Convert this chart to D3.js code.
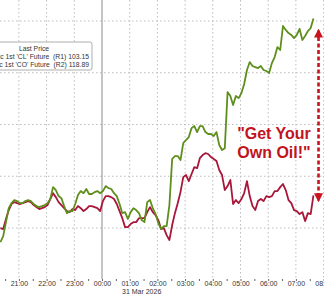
<!DOCTYPE html>
<html>
<head>
<meta charset="utf-8">
<script src="https://d3js.org/d3.v7.min.js"></script>
<style>
  body { margin: 0; background: #fff; }
  svg { display: block; }
  .tick text { font-family: "Liberation Sans", Arial, sans-serif; font-size: 7px; fill: #333; }
</style>
</head>
<body>
<div id="chart"></div>
<script>
// series: one reading every 6 minutes from 20:20, 30 Mar 2026
var startTime = '2026-03-30T20:20:00';
var stepMinutes = 6;

// Generic 1st 'CL' Future (R1)
var clValues = [
  90.18, 90.53, 91.34, 92.15, 92.44, 92.62, 92.56, 92.44, 92.44, 92.56,
  92.62, 92.56, 92.39, 92.27, 92.21, 92.27, 92.33, 92.44, 92.68, 93.37,
  93.20, 92.85, 92.73, 92.27, 91.86, 91.98, 91.98, 92.39, 92.91, 93.14,
  93.02, 93.26, 92.97, 92.97, 93.08, 93.14, 93.02, 93.14, 93.43, 93.31,
  93.26, 93.02, 92.85, 92.39, 91.86, 91.92, 91.52, 91.92, 92.15, 92.04,
  91.86, 91.46, 91.34, 92.50, 92.62, 92.15, 91.81, 91.28, 90.94, 91.11,
  91.11, 92.33, 95.00, 95.17, 95.17, 94.94, 95.92, 96.10, 96.27, 96.79,
  96.91, 96.56, 96.91, 96.91, 96.56, 96.45, 96.45, 96.33, 96.56, 95.81,
  95.52, 95.63, 98.88, 98.65, 98.13, 98.65, 98.53, 98.82, 99.35, 100.16,
  100.62, 100.39, 100.33, 100.27, 100.39, 100.16, 100.10, 99.98, 100.56, 100.91,
  101.49, 101.32, 102.71, 102.48, 102.30, 102.19, 102.01, 102.19, 102.54, 101.90,
  102.13, 102.42, 102.59, 103.15
];

// Generic 1st 'CO' Future (R2)
var coValues = [
  116.99, 116.94, 117.52, 118.04, 118.39, 118.50, 118.44, 118.39, 118.44, 118.50,
  118.56, 118.50, 118.33, 118.21, 118.10, 118.15, 118.21, 118.33, 118.68, 119.02,
  118.79, 118.50, 118.33, 118.15, 117.98, 117.92, 118.10, 118.04, 118.27, 118.15,
  117.98, 118.10, 118.27, 118.27, 118.21, 118.15, 117.98, 118.56, 118.85, 118.85,
  118.79, 118.68, 118.39, 117.98, 117.57, 117.05, 117.05, 117.23, 117.34, 117.34,
  117.57, 117.57, 117.57, 117.92, 118.21, 117.92, 117.75, 117.46, 116.94, 116.99,
  116.59, 116.30, 117.17, 117.86, 118.44, 119.08, 119.95, 120.07, 119.72, 120.13,
  120.53, 120.47, 121.05, 121.23, 121.34, 121.29, 121.11, 121.00, 120.88, 120.36,
  120.07, 119.20, 119.43, 119.78, 118.39, 118.62, 118.44, 118.68, 119.02, 119.72,
  118.85, 118.27, 118.04, 118.56, 118.68, 118.56, 118.85, 118.79, 118.85, 119.14,
  119.14, 119.37, 119.55, 119.20, 118.62, 118.44, 118.04, 117.98, 117.81, 117.92,
  117.40, 117.86, 117.81, 118.89
];

var clGrid = [91, 94, 97, 100, 103];
var legendTitle = 'Last Price';
var legendRows = [
  { name: "Generic 1st 'CL' Future", axis: '(R1)', last: '103.15' },
  { name: "Generic 1st 'CO' Future", axis: '(R2)', last: '118.89' }
];
var dateLabel = '31 Mar 2026';
var noteLines = ['"Get Your', 'Own Oil!"'];

var width = 324, height = 295;
var plotBottom = 279;

var parseTime = d3.timeParse('%Y-%m-%dT%H:%M:%S');
var t0 = parseTime(startTime);
var times = clValues.map(function(d, i) { return d3.timeMinute.offset(t0, i * stepMinutes); });

var x = d3.scaleTime()
  .domain([parseTime('2026-03-30T20:00:00'), parseTime('2026-03-31T08:00:00')])
  .range([-8.8, 323.6]);
var yCL = d3.scaleLinear().domain([91, 103]).range([228, 21]);
var yCO = d3.scaleLinear().domain([117, 129]).range([228, 21]);

var svg = d3.select('#chart').append('svg')
  .attr('width', width)
  .attr('height', height);

// grid
var hours = d3.timeHour.every(1).range(x.domain()[0], d3.timeMinute.offset(x.domain()[1], 1))
  .filter(function(d) { return x(d) >= 0; });
svg.append('g').selectAll('line')
  .data(clGrid)
  .enter().append('line')
    .attr('x1', 0).attr('x2', width)
    .attr('y1', function(d) { return yCL(d); })
    .attr('y2', function(d) { return yCL(d); })
    .style('stroke', '#bdbdbd')
    .style('stroke-width', 1)
    .style('stroke-dasharray', '1.5,2.5');

svg.append('g').selectAll('line')
  .data(hours)
  .enter().append('line')
    .attr('x1', function(d) { return x(d); })
    .attr('x2', function(d) { return x(d); })
    .attr('y1', 0).attr('y2', plotBottom)
    .style('stroke', function(d) { return d.getHours() === 0 ? '#8c8c8c' : '#bdbdbd'; })
    .style('stroke-width', 1)
    .style('stroke-dasharray', function(d) { return d.getHours() === 0 ? null : '1.5,2.5'; });

// axis
var xAxis = d3.axisBottom(x)
  .tickValues(hours)
  .tickFormat(d3.timeFormat('%H:%M'))
  .tickSize(0)
  .tickPadding(2);
var axisG = svg.append('g')
  .attr('transform', 'translate(0,' + plotBottom + ')')
  .call(xAxis);
axisG.select('.domain').remove();

var halfTicks = d3.axisBottom(x)
  .ticks(d3.timeMinute.every(30))
  .tickFormat('')
  .tickSize(2);
var halfG = svg.append('g')
  .attr('transform', 'translate(0,' + plotBottom + ')')
  .call(halfTicks);
halfG.select('.domain').remove();
halfG.selectAll('line').style('stroke', '#666');

svg.append('text')
  .attr('x', 122)
  .attr('y', 294)
  .style('font-family', '"Liberation Sans", Arial, sans-serif')
  .style('font-size', '7px')
  .style('fill', '#333')
  .text(dateLabel);

// lines
var lineCL = d3.line()
  .x(function(d, i) { return x(times[i]); })
  .y(function(d) { return yCL(d); });
var lineCO = d3.line()
  .x(function(d, i) { return x(times[i]); })
  .y(function(d) { return yCO(d); });

svg.append('path')
  .attr('d', lineCO(coValues))
  .style('fill', 'none')
  .style('stroke', '#a8163a')
  .style('stroke-width', 1.8)
  .style('stroke-linejoin', 'round');

svg.append('path')
  .attr('d', lineCL(clValues))
  .style('fill', 'none')
  .style('stroke', '#5e8f1c')
  .style('stroke-width', 1.8)
  .style('stroke-linejoin', 'round');

// legend box
var legend = svg.append('g');
legend.append('rect')
  .attr('x', -24).attr('y', 42)
  .attr('width', 116).attr('height', 28)
  .attr('rx', 2)
  .style('fill', '#fff')
  .style('stroke', '#9a9a9a')
  .style('stroke-width', 0.8);
legend.append('text')
  .attr('x', 34).attr('y', 51)
  .attr('text-anchor', 'middle')
  .style('font-family', '"Liberation Sans", Arial, sans-serif')
  .style('font-size', '6.8px')
  .style('fill', '#333')
  .text(legendTitle);
legend.selectAll('.row')
  .data(legendRows)
  .enter().append('text')
    .attr('class', 'row')
    .attr('x', 89)
    .attr('y', function(d, i) { return 59 + i * 7.5; })
    .attr('text-anchor', 'end')
    .attr('xml:space', 'preserve')
    .style('font-family', '"Liberation Sans", Arial, sans-serif')
    .style('font-size', '6.8px')
    .style('fill', '#333')
    .text(function(d) { return d.name + '  ' + d.axis + ' ' + d.last; });

// annotation arrow
var defs = svg.append('defs');
defs.append('marker')
  .attr('id', 'head')
  .attr('viewBox', '0 0 10 10')
  .attr('refX', 8).attr('refY', 5)
  .attr('markerUnits', 'userSpaceOnUse')
  .attr('markerWidth', 9).attr('markerHeight', 9)
  .attr('orient', 'auto-start-reverse')
  .append('path')
    .attr('d', 'M0,0 L10,5 L0,10 Z')
    .style('fill', '#c8141e');

var arrowX = x(parseTime('2026-03-31T07:49:00'));
svg.append('line')
  .attr('x1', arrowX).attr('x2', arrowX)
  .attr('y1', yCL(103.15) + 12).attr('y2', yCO(118.89) + 5)
  .style('stroke', '#c8141e')
  .style('stroke-width', 2.6)
  .style('stroke-dasharray', '4,2.5')
  .attr('marker-start', 'url(#head)')
  .attr('marker-end', 'url(#head)');

svg.append('g').selectAll('text')
  .data(noteLines)
  .enter().append('text')
    .attr('x', 274)
    .attr('y', function(d, i) { return 139 + i * 19; })
    .attr('text-anchor', 'middle')
    .style('font-family', '"Liberation Sans", Arial, sans-serif')
    .style('font-weight', 'bold')
    .style('font-size', '16px')
    .style('fill', '#c0141e')
    .text(function(d) { return d; });
</script>
</body>
</html>
